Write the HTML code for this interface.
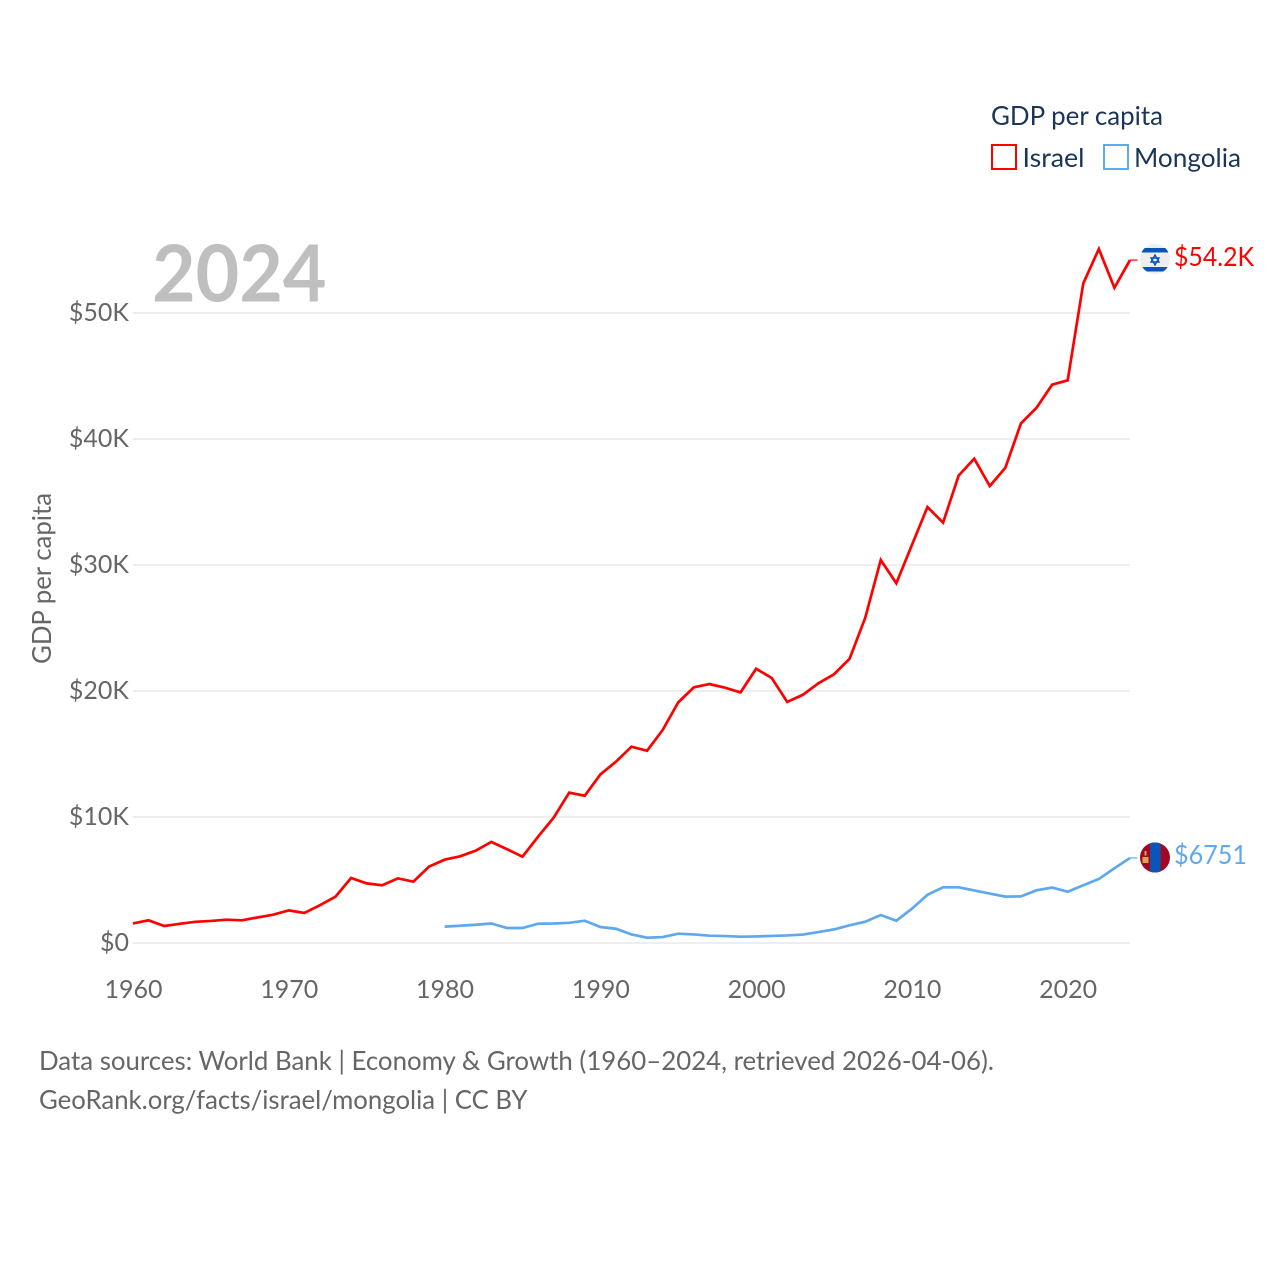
<!DOCTYPE html>
<html lang="en">
<head>
<meta charset="utf-8">
<title>GDP per capita: Israel and Mongolia</title>
<style>
  html, body { margin: 0; padding: 0; background: #fff; }
  body { width: 1280px; height: 1280px; overflow: hidden; }
  svg { display: block; font-family: "Lato", "Carlito", "Liberation Sans", sans-serif; }
</style>
</head>
<body>
<svg id="chart" xmlns="http://www.w3.org/2000/svg" width="1280" height="1280" viewBox="0 0 1280 1280">
  <rect x="0" y="0" width="1280" height="1280" fill="#fff"/>
  <g id="grid"></g>
  <g id="yticks"></g>
  <g id="xticks"></g>
  <text x="152" y="301.5" font-size="79" font-weight="700" fill="#bfbfbf" textLength="174.5" lengthAdjust="spacingAndGlyphs">2024</text>
  <text transform="translate(51,578.5) rotate(-90)" text-anchor="middle" font-size="26" fill="#666" textLength="171" lengthAdjust="spacingAndGlyphs">GDP per capita</text>
  <g id="series"></g>

  <g>
    <text x="991" y="125" font-size="26" fill="#1a3557" textLength="172" lengthAdjust="spacingAndGlyphs">GDP per capita</text>
    <g>
      <rect x="992" y="145" width="24" height="24" fill="none" stroke="#ff0000" stroke-width="2"/>
      <text x="1022.5" y="167" font-size="26" fill="#1a3557" textLength="62" lengthAdjust="spacingAndGlyphs">Israel</text>
    </g>
    <g>
      <rect x="1104" y="145" width="24" height="24" fill="none" stroke="#5fa8ee" stroke-width="2"/>
      <text x="1134" y="167" font-size="26" fill="#1a3557" textLength="107" lengthAdjust="spacingAndGlyphs">Mongolia</text>
    </g>
  </g>

  <defs>
    <clipPath id="clip-il"><circle cx="1155" cy="259" r="15"/></clipPath>
    <clipPath id="clip-mn"><circle cx="1155" cy="857.5" r="15"/></clipPath>
  </defs>
  <g clip-path="url(#clip-il)">
    <rect x="1140" y="244" width="30" height="30" fill="#eeeeee"/>
    <rect x="1140" y="248" width="30" height="4.5" fill="#0a55b8"/>
    <rect x="1140" y="267" width="30" height="4.5" fill="#0a55b8"/>
    <polygon points="1155,255 1159,262 1151,262" fill="none" stroke="#0a55b8" stroke-width="1.4"/>
    <polygon points="1155,265 1159,258 1151,258" fill="none" stroke="#0a55b8" stroke-width="1.4"/>
  </g>
  <g clip-path="url(#clip-mn)">
    <rect x="1140" y="842" width="31" height="31" fill="#9e0a26"/>
    <rect x="1150" y="842" width="10.5" height="31" fill="#0a55b8"/>
    <rect x="1142.5" y="857" width="6" height="6" fill="#d9a64a"/>
    <rect x="1144.5" y="851" width="2" height="4.5" fill="#d9a64a"/>
  </g>
  <text id="value-israel" x="1174" y="266" font-size="26" fill="#ff0000" textLength="80" lengthAdjust="spacingAndGlyphs"></text>
  <text id="value-mongolia" x="1174" y="864" font-size="26" fill="#5fa8ee" textLength="73" lengthAdjust="spacingAndGlyphs"></text>

  <text x="39" y="1070" font-size="26" fill="#666" textLength="955" lengthAdjust="spacingAndGlyphs">Data sources: World Bank | Economy &amp; Growth (1960–2024, retrieved 2026-04-06).</text>
  <text x="39" y="1109" font-size="26" fill="#666" textLength="488.5" lengthAdjust="spacingAndGlyphs">GeoRank.org/facts/israel/mongolia | CC BY</text>
</svg>
<script>
const israelStartYear = 1960;
const mongoliaStartYear = 1980;
const israelValues = [1550,1800,1350,1520,1680,1750,1850,1800,2030,2250,2590,2380,3000,3680,5160,4730,4580,5130,4870,6060,6610,6880,7330,8020,7450,6850,8430,9940,11930,11690,13380,14390,15580,15260,16900,19100,20290,20550,20260,19890,21770,21030,19130,19700,20610,21330,22560,25800,30400,28550,31590,34600,33360,37100,38440,36270,37720,41240,42480,44310,44660,52350,55080,52000,54200];
const mongoliaValues = [1300,1370,1450,1550,1190,1190,1530,1550,1600,1770,1270,1130,680,420,470,740,680,580,550,500,520,560,600,670,870,1080,1400,1690,2220,1770,2720,3830,4420,4420,4170,3920,3680,3700,4180,4400,4070,4580,5080,5930,6751];
const yTickValues = [0,10000,20000,30000,40000,50000];
const yTickLabels = ["$0","$10K","$20K","$30K","$40K","$50K"];
const xTickYears = [1960,1970,1980,1990,2000,2010,2020];
const israelLatestLabel = "$54.2K";
const mongoliaLatestLabel = "$6751";

const NS = "http://www.w3.org/2000/svg";
const xScale = function (year) { return 133 + (year - 1960) * (997 / 64); };
const yScale = function (value) { return 943 - value * (630 / 50000); };

const grid = document.getElementById("grid");
const yticks = document.getElementById("yticks");
const xticks = document.getElementById("xticks");
const series = document.getElementById("series");

yTickValues.forEach(function (v, i) {
  const line = document.createElementNS(NS, "line");
  line.setAttribute("x1", xScale(1960));
  line.setAttribute("x2", xScale(2024));
  line.setAttribute("y1", yScale(v));
  line.setAttribute("y2", yScale(v));
  line.setAttribute("stroke", "#eeeeee");
  line.setAttribute("stroke-width", "2");
  
  
  grid.appendChild(line);

  const t = document.createElementNS(NS, "text");
  t.setAttribute("x", 129);
  t.setAttribute("y", yScale(v) + 8);
  t.setAttribute("text-anchor", "end");
  t.setAttribute("font-size", "25");
  t.setAttribute("fill", "#666");
  
  
  t.textContent = yTickLabels[i];
  yticks.appendChild(t);
});

xTickYears.forEach(function (year) {
  const t = document.createElementNS(NS, "text");
  t.setAttribute("x", xScale(year) + 0.5);
  t.setAttribute("y", 998);
  t.setAttribute("text-anchor", "middle");
  t.setAttribute("font-size", "25");
  t.setAttribute("fill", "#666");
  
  
  t.textContent = String(year);
  xticks.appendChild(t);
});

function linePath(values, startYear) {
  return values.map(function (v, i) {
    return (i ? "L" : "M") + xScale(startYear + i).toFixed(2) + " " + yScale(v).toFixed(2);
  }).join(" ");
}

function leaderPath(values) {
  const y = yScale(values[values.length - 1]).toFixed(2);
  return "M" + xScale(2024).toFixed(2) + " " + y + " L" + (xScale(2024) + 7.5).toFixed(2) + " " + y;
}

const israelLine = document.createElementNS(NS, "path");
israelLine.setAttribute("d", linePath(israelValues, israelStartYear));
israelLine.setAttribute("fill", "none");
israelLine.setAttribute("stroke", "#ff0000");
israelLine.setAttribute("stroke-width", "2.7");


series.appendChild(israelLine);

const mongoliaLine = document.createElementNS(NS, "path");
mongoliaLine.setAttribute("d", linePath(mongoliaValues, mongoliaStartYear));
mongoliaLine.setAttribute("fill", "none");
mongoliaLine.setAttribute("stroke", "#5fa8ee");
mongoliaLine.setAttribute("stroke-width", "2.7");


series.appendChild(mongoliaLine);

const israelLeader = document.createElementNS(NS, "path");
israelLeader.setAttribute("d", leaderPath(israelValues));
israelLeader.setAttribute("fill", "none");
israelLeader.setAttribute("stroke", "#ff0000");
israelLeader.setAttribute("stroke-width", "1.2");


series.appendChild(israelLeader);

const mongoliaLeader = document.createElementNS(NS, "path");
mongoliaLeader.setAttribute("d", leaderPath(mongoliaValues));
mongoliaLeader.setAttribute("fill", "none");
mongoliaLeader.setAttribute("stroke", "#5fa8ee");
mongoliaLeader.setAttribute("stroke-width", "1.2");


series.appendChild(mongoliaLeader);

document.getElementById("value-israel").textContent = israelLatestLabel;
document.getElementById("value-mongolia").textContent = mongoliaLatestLabel;
</script>
</body>
</html>
